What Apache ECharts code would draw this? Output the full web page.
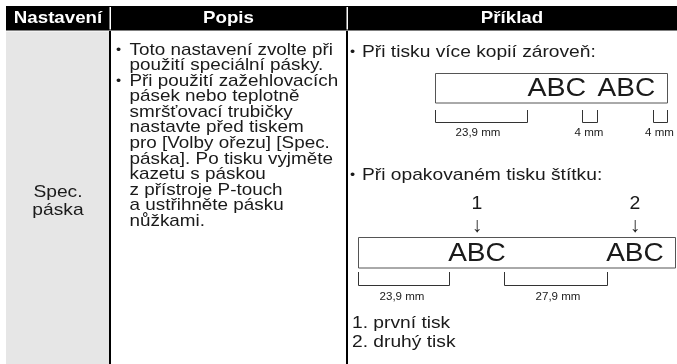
<!DOCTYPE html>
<html><head><meta charset="utf-8">
<script src="https://cdn.jsdelivr.net/npm/echarts@6/dist/echarts.min.js"></script>
<style>html,body{margin:0;padding:0;background:#fff}#c{width:677px;height:364px}</style>
</head><body><div id="c"></div>
<script>
// ---- data ----
var headers = ['Nastavení', 'Popis', 'Příklad'];
var settingLines = ['Spec.', 'páska'];
var descBullets = [
  ['Toto nastavení zvolte při', 'použití speciální pásky.'],
  ['Při použití zažehlovacích', 'pásek nebo teplotně', 'smršťovací trubičky', 'nastavte před tiskem',
   'pro [Volby ořezu] [Spec.', 'páska]. Po tisku vyjměte', 'kazetu s páskou', 'z přístroje P-touch',
   'a ustřihněte pásku', 'nůžkami.']
];
var exampleTitles = ['Při tisku více kopií zároveň:', 'Při opakovaném tisku štítku:'];
var tapeText = 'ABC';
var copiesDims = ['23,9 mm', '4 mm', '4 mm'];
var repeatMarks = ['1', '2'];
var repeatDims = ['23,9 mm', '27,9 mm'];
var legendLines = ['1. první tisk', '2. druhý tisk'];

// ---- layout ----
var FONT = '"Liberation Sans", Arial, sans-serif';
var SX = 1.13;
var colX = [6, 110, 347, 677];
var headTop = 6, headBot = 30.5;
var g = [];
function txt(x, y, s, o) {
  o = o || {};
  return {type: 'text', x: x, y: y, scaleX: o.sx || SX, z: 10,
    style: {text: s, fill: o.fill || '#1a1a1a', font: (o.weight || 'normal') + ' ' + (o.size || 17) + 'px ' + FONT,
      textAlign: o.align || 'left', textVerticalAlign: 'middle'}};
}
function line(pts, o) {
  o = o || {};
  return {type: 'polyline', z: 5, shape: {points: pts}, style: {stroke: o.stroke || '#333', lineWidth: o.lw || 1, fill: null}};
}
// header band
g.push({type: 'rect', shape: {x: colX[0], y: headTop, width: colX[3] - colX[0], height: headBot - headTop}, style: {fill: '#000'}});
[colX[1], colX[2]].forEach(function (x) {
  g.push({type: 'rect', shape: {x: x - 0.5, y: headTop + 1, width: 1.5, height: headBot - headTop - 2}, style: {fill: '#fff'}, z: 3});
});
// gray first column
g.push({type: 'rect', shape: {x: colX[0], y: 31.5, width: colX[1] - colX[0] - 1, height: 364 - 31.5}, style: {fill: '#e6e6e6'}});
[colX[1], colX[2]].forEach(function (x) {
  g.push({type: 'rect', shape: {x: x - 1, y: 31, width: 2, height: 364 - 31}, style: {fill: '#000'}, z: 3});
});
// header texts
headers.forEach(function (h, i) {
  g.push(txt((colX[i] + colX[i + 1]) / 2, 18.5, h, {fill: '#fff', weight: 'bold', size: 17, align: 'center', sx: 1.1}));
});
// setting cell
settingLines.forEach(function (s, i) {
  g.push(txt(58, 192.5 + i * 17.5, s, {align: 'center'}));
});
// description bullets
var LH = 15.55, y = 50;
descBullets.forEach(function (b) {
  g.push(txt(116, y, '•', {size: 13}));
  b.forEach(function (s) { g.push(txt(129.5, y, s, {sx: 1.11})); y += LH; });
});
// example 1
g.push(txt(350, 52, '•', {size: 13}));
g.push(txt(362, 52, exampleTitles[0]));
g.push({type: 'rect', z: 4, shape: {x: 435.5, y: 73.5, width: 232, height: 29.5}, style: {fill: null, stroke: '#555', lineWidth: 1}});
g.push(txt(527.5, 89, tapeText, {size: 25.5, sx: 1.12}));
g.push(txt(597.5, 89, tapeText, {size: 25.5, sx: 1.1}));
var br1 = [[435.5, 527.5], [582.5, 597.5], [653.5, 667.5]];
br1.forEach(function (b, i) {
  g.push(line([[b[0], 110], [b[0], 122.5], [b[1], 122.5], [b[1], 110]]));
  var cx = i === 0 ? 478 : (b[0] + b[1]) / 2 - 1;
  g.push(txt(cx, 133.5, copiesDims[i], {size: 10.5, align: 'center', sx: 1.1}));
});
// example 2
g.push(txt(350, 175, '•', {size: 13}));
g.push(txt(362, 175, exampleTitles[1]));
var marks = [477, 635];
marks.forEach(function (cx, i) {
  g.push(txt(cx, 203.5, repeatMarks[i], {size: 18.5, align: 'center', sx: 1.05}));
  g.push(txt(cx, 226, '↓', {size: 21, align: 'center', sx: 1.0}));
});
g.push({type: 'rect', z: 4, shape: {x: 358.5, y: 237.5, width: 317, height: 30.5}, style: {fill: null, stroke: '#555', lineWidth: 1}});
marks.forEach(function (cx) {
  g.push(txt(cx, 254, tapeText, {size: 25.5, align: 'center', sx: 1.1}));
});
var br2 = [[358.5, 449.5], [504.5, 607.5]];
br2.forEach(function (b, i) {
  g.push(line([[b[0], 272], [b[0], 285.5], [b[1], 285.5], [b[1], 272]]));
  g.push(txt(i === 0 ? 402 : 558, 297.5, repeatDims[i], {size: 10.5, align: 'center', sx: 1.1}));
});
legendLines.forEach(function (s, i) {
  g.push(txt(352, 323 + i * 19.5, s));
});

var chart = echarts.init(document.getElementById('c'), null, {renderer: 'canvas'});
chart.setOption({animation: false, backgroundColor: '#fff', graphic: {elements: g}});
</script></body></html>
